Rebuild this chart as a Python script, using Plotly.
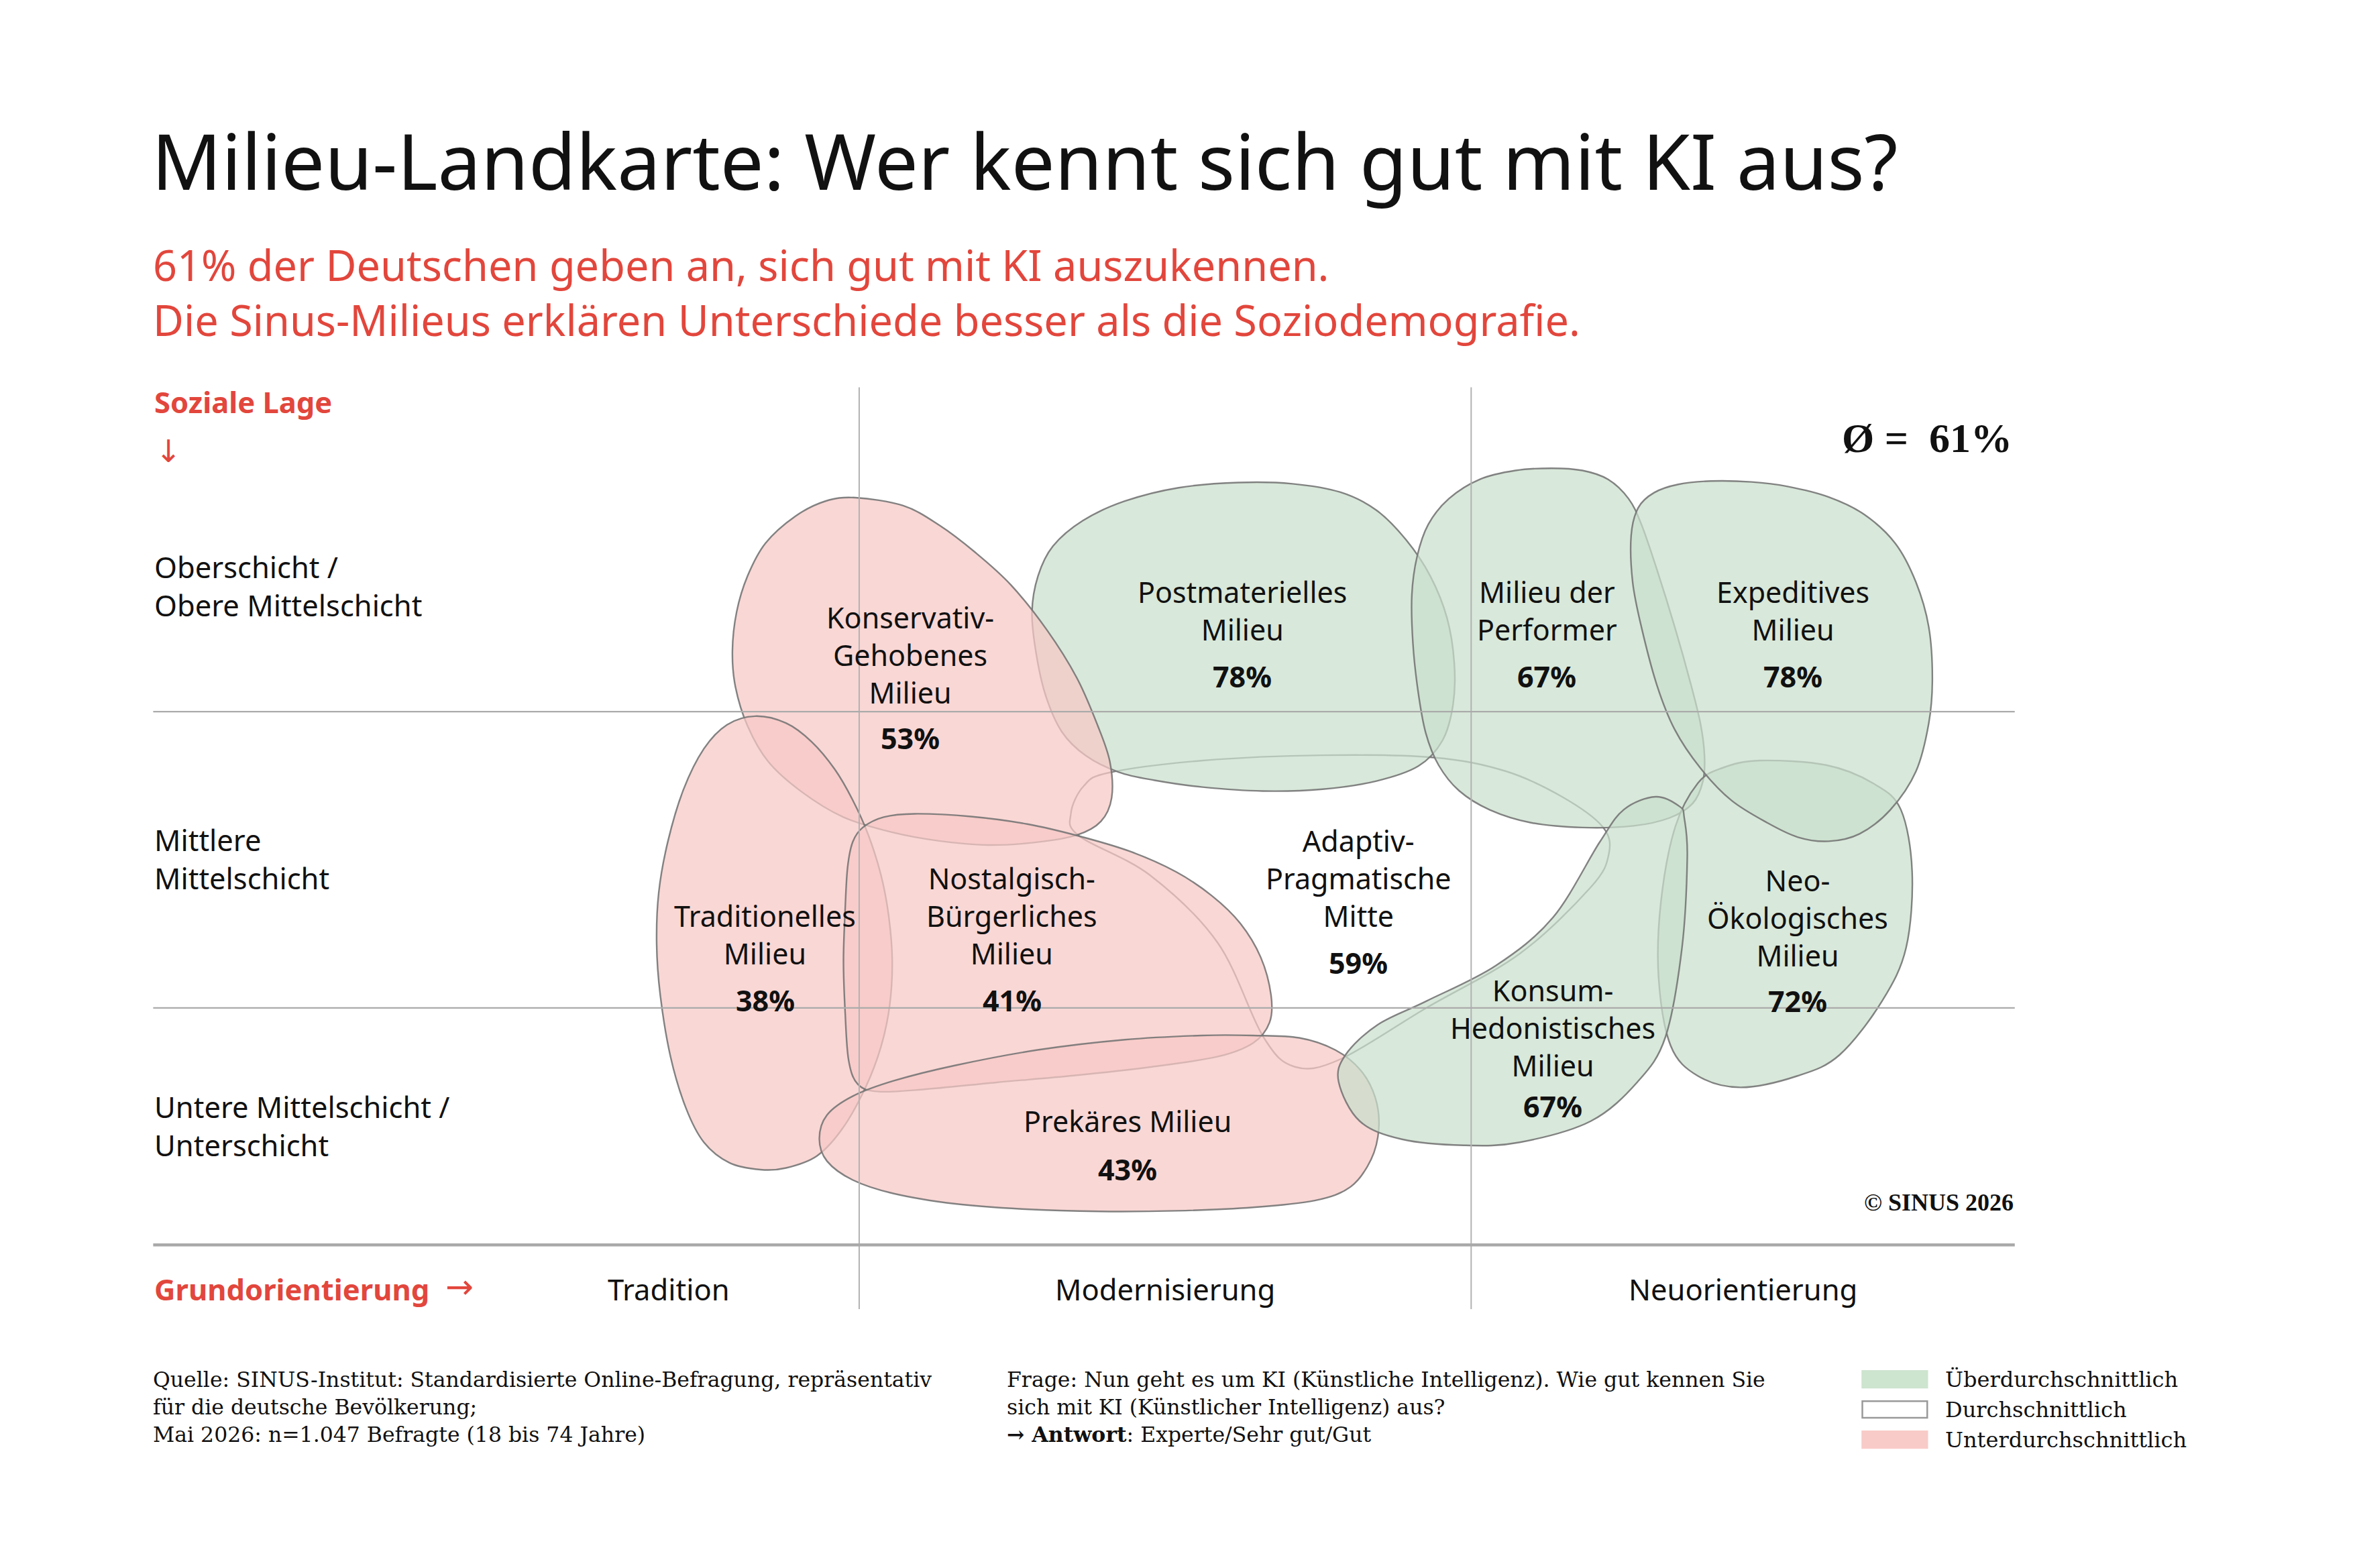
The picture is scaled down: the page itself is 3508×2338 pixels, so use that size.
import plotly.graph_objects as go

# ---------------- data ----------------
milieu_names = [
    "Konservativ-<br>Gehobenes<br>Milieu",
    "Postmaterielles<br>Milieu",
    "Milieu der<br>Performer",
    "Expeditives<br>Milieu",
    "Traditionelles<br>Milieu",
    "Nostalgisch-<br>Bürgerliches<br>Milieu",
    "Adaptiv-<br>Pragmatische<br>Mitte",
    "Neo-<br>Ökologisches<br>Milieu",
    "Konsum-<br>Hedonistisches<br>Milieu",
    "Prekäres Milieu",
]
milieu_values = [53, 78, 67, 78, 38, 41, 59, 72, 67, 43]
milieu_rating = ["unter", "ueber", "ueber", "ueber", "unter", "unter", "durch", "ueber", "ueber", "unter"]
average_value = 61

social_rows = ["Oberschicht /<br>Obere Mittelschicht", "Mittlere<br>Mittelschicht",
               "Untere Mittelschicht /<br>Unterschicht"]
orientation_cols = ["Tradition", "Modernisierung", "Neuorientierung"]
legend_labels = ["Überdurchschnittlich", "Durchschnittlich", "Unterdurchschnittlich"]
legend_keys = ["ueber", "durch", "unter"]

title_text = "Milieu-Landkarte: Wer kennt sich gut mit KI aus?"
subtitle_text = ("61% der Deutschen geben an, sich gut mit KI auszukennen.<br>"
                 "Die Sinus-Milieus erklären Unterschiede besser als die Soziodemografie.")
source_text = ("Quelle: SINUS-Institut: Standardisierte Online-Befragung, repräsentativ<br>"
               "für die deutsche Bevölkerung;<br>"
               "Mai 2026: n=1.047 Befragte (18 bis 74 Jahre)")
question_text = ("Frage: Nun geht es um KI (Künstliche Intelligenz). Wie gut kennen Sie<br>"
                 "sich mit KI (Künstlicher Intelligenz) aus?<br>"
                 "<b>→ Antwort</b>: Experte/Sehr gut/Gut")

# ---------------- map geometry (map units) ----------------
K = 2.25
W, H = 3508, 2338
XMAX, YMAX = W / K, H / K

OUT_KONSERVATIV = [(566.7, 329.8), (598.4, 335.1), (622.3, 348), (646, 365.9), (669.9, 387.7), (693.7, 417.5),
                   (713.5, 449.2), (727.4, 481), (735.4, 504.8), (736.6, 528.6), (729.4, 544.4), (713.5, 553.4),
                   (685.8, 558.3), (654, 560), (622.3, 557.3), (590.5, 551.4), (558.8, 541.5), (531, 524.6),
                   (509.1, 504.8), (495.3, 481), (487.3, 455.2), (485.3, 431.3), (488.1, 405.5), (495.3, 381.8),
                   (507.2, 360), (527, 342.1), (546.9, 332.1)]
OUT_POSTMAT = [(683.8, 405.6), (687.8, 381.7), (697.7, 361.9), (717.5, 345), (745.3, 332.1), (781, 323.2),
               (820.7, 319.8), (856.4, 320.6), (888.2, 326.2), (912, 338.1), (931.8, 357.9), (947.7, 381.7),
               (958.8, 409.5), (963.6, 439.3), (962.8, 467), (955.7, 490.9), (939.8, 507.7), (912, 517.6),
               (876.3, 523), (836.6, 524.2), (796.9, 521.6), (765.1, 517.1), (741.3, 511.7), (719.5, 500.8),
               (703.6, 485), (692.9, 461.1), (686.6, 433.3)]
OUT_PERFORMER = [(1028.1, 310.3), (1048.5, 311.8), (1065.5, 317.7), (1079.1, 330.5), (1087.6, 347.5),
                 (1097.8, 377.2), (1109.7, 415.5), (1119.9, 451.7), (1126.7, 479.3), (1129.4, 500.6),
                 (1128.4, 517.6), (1121.6, 532.4), (1106.3, 542), (1082.5, 547.3), (1048.5, 548.4),
                 (1014.5, 545.2), (987.2, 536.7), (966.8, 524), (953.2, 507), (944.7, 485.7), (939.6, 458),
                 (936.2, 426.1), (935.5, 394.3), (939, 368.7), (946.4, 347.5), (960, 330.5), (980.4, 317.7),
                 (1004.2, 311.8)]
OUT_EXPEDITIV = [(1133.5, 318.8), (1160.7, 319.4), (1184.5, 322.4), (1211.7, 329.4), (1235.5, 341.1),
                 (1255.9, 360.2), (1269.5, 385.8), (1278, 415.5), (1280.4, 449.5), (1278, 479.3), (1269.5, 511.2),
                 (1252.5, 536.7), (1232.1, 552.6), (1211.7, 557.5), (1191.3, 554.8), (1170.9, 545.2),
                 (1147.1, 530.3), (1126.7, 509), (1109.7, 483.5), (1097.8, 453.8), (1087.6, 415.5),
                 (1081.8, 385.7), (1080.8, 355), (1085.5, 336.5), (1096, 326.5), (1112, 321)]
OUT_TRADITION = [(500.4, 474.6), (520.8, 479.2), (537.8, 491.6), (553.1, 509.8), (565, 530.2), (575.2, 552.9),
                 (583.8, 580.1), (588.9, 607.3), (591.2, 636.8), (589.5, 666.3), (583.8, 693.5), (573.5, 720.7),
                 (558.2, 747.9), (541.2, 766.1), (520.8, 774), (503.8, 775.1), (483.4, 770.6), (466.4, 757),
                 (454.5, 734.3), (444.3, 700.3), (437.5, 659.5), (435.1, 625.5), (436.5, 591.4), (442.6, 557.4),
                 (452.8, 523.4), (466.4, 496.2), (481.7, 480.3)]
OUT_NOSTALGISCH = [(571.8, 548.3), (585.5, 541.5), (605.9, 539.3), (643.3, 541.1), (680.7, 546.1), (714.7, 554),
                   (748.7, 564.2), (779.3, 577.8), (803.1, 593.7), (821.8, 611.9), (835.4, 634.5), (842.2, 659.5),
                   (841.2, 677.6), (830.3, 691.2), (806.5, 700.3), (762.3, 707.1), (711.3, 712.8), (660.3, 717.3),
                   (612.7, 721.9), (582.1, 723.4), (568.4, 718.5), (562.3, 702.6), (560, 670.8), (558.9, 636.8),
                   (560, 602.8), (561.6, 575), (565, 558)]
OUT_ADAPTIV = [(735, 512), (797, 504), (876, 500.5), (950, 502), (997.5, 511), (1035, 528), (1062, 548),
               (1066, 566), (1054, 588), (1007, 632), (945, 668), (888, 702), (858, 707), (837, 687),
               (807, 625), (762, 580), (715, 554), (709.6, 539), (718, 521)]
OUT_NEOOEKO = [(1166, 504), (1210, 507), (1241, 519), (1259.5, 536.5), (1267, 578), (1263, 628), (1247, 663.5),
               (1219, 699), (1191, 713), (1153.5, 720.6), (1125, 713), (1107, 693), (1099, 648), (1100.5, 598),
               (1110, 548), (1125, 519), (1141, 509)]
OUT_KONSUM = [(1097, 528), (1113, 534.5), (1116, 542), (1118, 568), (1114.5, 628), (1103.6, 687), (1085, 717),
              (1054, 743), (1007, 757), (970, 759), (929, 755), (901, 743), (887, 717), (891.6, 699), (913, 679),
              (945, 663.5), (991, 640), (1029, 608), (1060, 558), (1076, 536.5)]
OUT_PREKAER = [(830.3, 686.2), (860.9, 687.8), (884.7, 695.8), (901.7, 709.4), (911.3, 727.5), (913.6, 747.9),
               (908.5, 768.3), (894.9, 786.5), (871.1, 795.6), (830.3, 800.1), (779.3, 802.4), (728.3, 802.8),
               (677.3, 801.2), (633.1, 797.8), (592.3, 791), (565.1, 782), (548, 769.5), (542.9, 754.7),
               (548, 738.9), (565.1, 726.4), (592.3, 716.2), (633.1, 706), (687.5, 695.8), (745.3, 689),
               (796.3, 686.2)]

outlines = [OUT_KONSERVATIV, OUT_POSTMAT, OUT_PERFORMER, OUT_EXPEDITIV, OUT_TRADITION, OUT_NOSTALGISCH,
            OUT_ADAPTIV, OUT_NEOOEKO, OUT_KONSUM, OUT_PREKAER]
label_x = [603, 823, 1025, 1188, 507, 670.5, 900, 1191, 1029, 747]
label_y = [434, 404.5, 404.5, 404.5, 619.5, 607, 582, 608, 681, 743]
value_y = [489, 448, 448, 448, 663, 663, 638, 663.5, 733, 775]
draw_order = [6, 1, 0, 4, 5, 9, 2, 7, 3, 8]

COL_SPLITS = [569.3, 974.8]
ROW_SPLITS = [471.6, 667.9]
GRID_LEFT, GRID_RIGHT = 101.5, 1335
GRID_TOP, GRID_BOTTOM, BASE_Y = 256.7, 867.6, 825
row_label_y = [388, 569, 746]
col_label_x = [443, 772, 1155]
legend_y = [914, 934, 954]

# ---------------- styles ----------------
RED = "#E2463C"
SANS = "Noto Sans"
ARROWFONT = "DejaVu Sans"
SERIF = "DejaVu Serif"
SERIF_B = "Liberation Serif"
fills = {"ueber": "rgba(201,223,204,0.72)", "durch": "rgba(255,255,255,0)", "unter": "rgba(247,200,197,0.73)"}
legend_fills = {"ueber": "#cde4cf", "durch": "#ffffff", "unter": "#f8cbc8"}
OUTLINE = "rgba(118,118,118,0.9)"


def smooth_path(pts):
    n = len(pts)
    d = "M {:.2f},{:.2f}".format(*pts[0])
    for i in range(n):
        p0, p1, p2, p3 = pts[(i - 1) % n], pts[i], pts[(i + 1) % n], pts[(i + 2) % n]
        c1 = (p1[0] + (p2[0] - p0[0]) / 6, p1[1] + (p2[1] - p0[1]) / 6)
        c2 = (p2[0] - (p3[0] - p1[0]) / 6, p2[1] - (p3[1] - p1[1]) / 6)
        d += " C {:.2f},{:.2f} {:.2f},{:.2f} {:.2f},{:.2f}".format(c1[0], c1[1], c2[0], c2[1], p2[0], p2[1])
    return d + " Z"


fig = go.Figure()
shapes = []
annotations = []

# milieu blobs
for i in draw_order:
    shapes.append(dict(type="path", xref="x", yref="y", path=smooth_path(outlines[i]),
                       fillcolor=fills[milieu_rating[i]], line=dict(color=OUTLINE, width=2.4), layer="above"))

# grid lines (on top of blobs)
for x in COL_SPLITS:
    shapes.append(dict(type="line", xref="x", yref="y", x0=x, x1=x, y0=GRID_TOP, y1=GRID_BOTTOM,
                       line=dict(color="#b2b2b2", width=2), layer="above"))
for y in ROW_SPLITS:
    shapes.append(dict(type="line", xref="x", yref="y", x0=GRID_LEFT, x1=GRID_RIGHT, y0=y, y1=y,
                       line=dict(color="#ababab", width=2.2), layer="above"))
shapes.append(dict(type="line", xref="x", yref="y", x0=GRID_LEFT, x1=GRID_RIGHT, y0=BASE_Y, y1=BASE_Y,
                   line=dict(color="#a9a9a9", width=4.5), layer="above"))

# milieu labels
for i in range(len(milieu_names)):
    annotations.append(dict(x=label_x[i], y=label_y[i], xref="x", yref="y", text=milieu_names[i],
                            showarrow=False, xanchor="center", yanchor="middle", align="center",
                            font=dict(family=SANS, size=43, color="#111111")))
    annotations.append(dict(x=label_x[i], y=value_y[i], xref="x", yref="y",
                            text="<b>{}%</b>".format(milieu_values[i]),
                            showarrow=False, xanchor="center", yanchor="middle",
                            font=dict(family=SANS, size=43, color="#111111")))

fig.add_trace(go.Scatter(x=label_x, y=value_y, mode="markers", marker=dict(opacity=0), hoverinfo="skip"))

# title & subtitle
annotations.append(dict(x=GRID_LEFT - 2, y=106, xref="x", yref="y", text=title_text, showarrow=False,
                        xanchor="left", yanchor="middle", font=dict(family=SANS, size=115, color="#111111")))
annotations.append(dict(x=GRID_LEFT - 1, y=193.5, xref="x", yref="y", text=subtitle_text, showarrow=False,
                        xanchor="left", yanchor="middle", align="left",
                        font=dict(family=SANS, size=63, color=RED)))

# axis titles
annotations.append(dict(x=GRID_LEFT, y=266, xref="x", yref="y", text="<b>Soziale Lage</b>", showarrow=False,
                        xanchor="left", yanchor="middle", font=dict(family=SANS, size=43.5, color=RED)))
annotations.append(dict(x=GRID_LEFT + 0.5, y=299, xref="x", yref="y", text="↓", showarrow=False,
                        xanchor="left", yanchor="middle", font=dict(family=ARROWFONT, size=46, color=RED)))
annotations.append(dict(x=GRID_LEFT, y=854, xref="x", yref="y", text="<b>Grundorientierung</b>",
                        showarrow=False, xanchor="left", yanchor="middle",
                        font=dict(family=SANS, size=43.5, color=RED)))
annotations.append(dict(x=294, y=853, xref="x", yref="y", text="→", showarrow=False,
                        xanchor="left", yanchor="middle", font=dict(family=ARROWFONT, size=50, color=RED)))
for lbl, yy in zip(social_rows, row_label_y):
    annotations.append(dict(x=GRID_LEFT, y=yy, xref="x", yref="y", text=lbl, showarrow=False,
                            xanchor="left", yanchor="middle", align="left",
                            font=dict(family=SANS, size=43.5, color="#111111")))
for lbl, xx in zip(orientation_cols, col_label_x):
    annotations.append(dict(x=xx, y=854, xref="x", yref="y", text=lbl, showarrow=False,
                            xanchor="center", yanchor="middle",
                            font=dict(family=SANS, size=43.5, color="#111111")))

# average + copyright
annotations.append(dict(x=GRID_RIGHT - 1, y=290, xref="x", yref="y",
                        text="<b>Ø =  {}%</b>".format(average_value), showarrow=False,
                        xanchor="right", yanchor="middle", font=dict(family=SERIF_B, size=62, color="#111111")))
annotations.append(dict(x=GRID_RIGHT, y=797, xref="x", yref="y", text="<b>© SINUS 2026</b>", showarrow=False,
                        xanchor="right", yanchor="middle", font=dict(family=SERIF_B, size=36, color="#111111")))

# footer
annotations.append(dict(x=GRID_LEFT - 1, y=932.5, xref="x", yref="y", text=source_text, showarrow=False,
                        xanchor="left", yanchor="middle", align="left",
                        font=dict(family=SERIF, size=31.5, color="#111111")))
annotations.append(dict(x=666, y=932.5, xref="x", yref="y", text=question_text, showarrow=False,
                        xanchor="left", yanchor="middle", align="left",
                        font=dict(family=SERIF, size=31.5, color="#111111")))

# legend
for key, lbl, yy in zip(legend_keys, legend_labels, legend_y):
    shapes.append(dict(type="rect", xref="x", yref="y", x0=1234, x1=1277, y0=yy - 5.5, y1=yy + 5.5,
                       fillcolor=legend_fills[key],
                       line=dict(color="#999999" if key == "durch" else legend_fills[key], width=2.5)))
    annotations.append(dict(x=1288, y=yy, xref="x", yref="y", text=lbl, showarrow=False,
                            xanchor="left", yanchor="middle",
                            font=dict(family=SERIF, size=32, color="#111111")))

fig.update_layout(
    width=W, height=H, margin=dict(l=0, r=0, t=0, b=0, pad=0),
    paper_bgcolor="white", plot_bgcolor="white", showlegend=False,
    xaxis=dict(range=[0, XMAX], visible=False, fixedrange=True),
    yaxis=dict(range=[YMAX, 0], visible=False, fixedrange=True),
    shapes=shapes, annotations=annotations,
)

fig.write_html("out.html", config={"displayModeBar": False},
               post_script="document.body.style.margin='0';")
